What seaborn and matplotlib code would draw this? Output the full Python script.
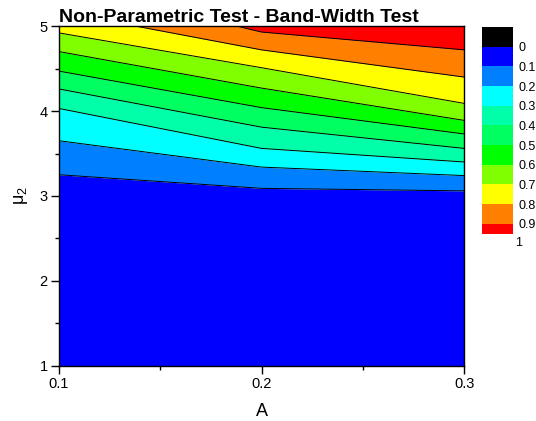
import numpy as np
import matplotlib
matplotlib.use('Agg')
import matplotlib.pyplot as plt
import seaborn as sns
from matplotlib.colors import ListedColormap, BoundaryNorm
from matplotlib.cm import ScalarMappable

# data: y (mu_2) position of each contour level at A = 0.1, 0.2, 0.3
A = [0.1, 0.2, 0.3]
b01 = [3.25, 3.09, 3.06]
b02 = [3.65, 3.34, 3.24]
b03 = [4.03, 3.56, 3.40]
b04 = [4.26, 3.81, 3.56]
b05 = [4.47, 4.04, 3.73]
b06 = [4.70, 4.27, 3.89]
b07 = [4.92, 4.51, 4.09]
b08 = [5.17, 4.72, 4.40]
b09 = [5.50, 4.93, 4.72]

levels = [0.1, 0.2, 0.3, 0.4, 0.5, 0.6, 0.7, 0.8, 0.9]
cbar_ticks = [0, 0.1, 0.2, 0.3, 0.4, 0.5, 0.6, 0.7, 0.8, 0.9]
cbar_labels = ['0', '0.1', '0.2', '0.3', '0.4', '0.5', '0.6', '0.7', '0.8', '0.9']

band_colors = ['#0000FF', '#0080FF', '#00FFFF', '#00FFA8', '#00FF60',
               '#00FF00', '#80FF00', '#FFFF00', '#FF8000', '#FF0000']

sns.set_theme(style='ticks')
plt.rcParams['font.family'] = ['Liberation Sans', 'DejaVu Sans']
plt.rcParams['mathtext.default'] = 'regular'
for k in ['text.color', 'axes.labelcolor', 'xtick.color', 'ytick.color']:
    plt.rcParams[k] = 'black'

fig = plt.figure(figsize=(5.36, 4.21), dpi=100)
ax = fig.add_axes([0.110, 0.131, 0.756, 0.807])

bounds = [b01, b02, b03, b04, b05, b06, b07, b08, b09]
edges = [[1, 1, 1]] + bounds + [[6, 6, 6]]
for i, col in enumerate(band_colors):
    ax.fill_between(A, edges[i], edges[i + 1], color=col, lw=0)

for b in bounds:
    sns.lineplot(x=A, y=b, ax=ax, color='black', lw=0.7, legend=False,
                 estimator=None, sort=False)

ax.set_xlim(0.1, 0.3)
ax.set_ylim(1, 5)
ax.set_xticks([0.1, 0.2, 0.3])
ax.set_xticklabels(['0.1', '0.2', '0.3'])
ax.set_xticks([0.15, 0.25], minor=True)
ax.set_yticks([1, 2, 3, 4, 5])
ax.set_yticks([1.5, 2.5, 3.5, 4.5], minor=True)
ax.tick_params(which='major', length=6, width=1, labelsize=10.5, pad=2)
ax.tick_params(which='minor', length=3, width=1)
for s in ax.spines.values():
    s.set_linewidth(1)
    s.set_color('black')
    s.set_zorder(5)

ax.set_xlabel('A', fontsize=13, labelpad=9)
ax.set_ylabel('μ$_2$', fontsize=13, labelpad=7)
ax.set_title('Non-Parametric Test - Band-Width Test', loc='left',
             fontsize=14, fontweight='bold', pad=3)

# colour scale
cax = fig.add_axes([0.899, 0.445, 0.058, 0.491])
cmap = ListedColormap(['#000000'] + band_colors)
cb_bounds = [-0.1, 0, 0.1, 0.2, 0.3, 0.4, 0.5, 0.6, 0.7, 0.8, 0.9, 0.95]
norm = BoundaryNorm(cb_bounds, cmap.N)
cb = fig.colorbar(ScalarMappable(norm=norm, cmap=cmap), cax=cax,
                  spacing='proportional', ticks=cbar_ticks)
cb.set_ticklabels(cbar_labels)
cb.outline.set_visible(False)
cax.minorticks_off()
cax.invert_yaxis()
cax.tick_params(length=0, labelsize=9, pad=4)
cax.text(1.07, 1.0, '1', transform=cax.get_yaxis_transform(), fontsize=9,
         va='center', ha='left', clip_on=False)

fig.savefig('out.png', dpi=100)
